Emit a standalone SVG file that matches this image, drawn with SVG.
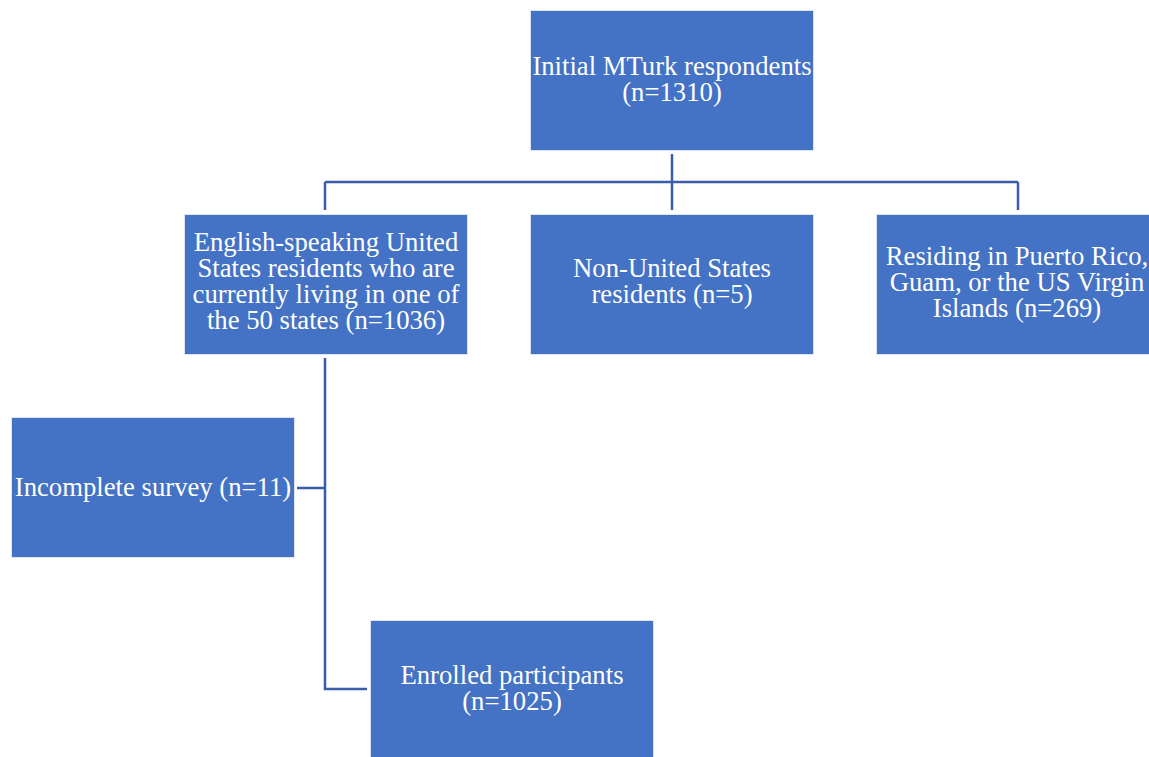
<svg xmlns="http://www.w3.org/2000/svg" width="1149" height="757" viewBox="0 0 1149 757">
<style>
.box{fill:#4472C4;stroke:#DCE4F2;stroke-width:1}
.t{font-family:"Liberation Serif","Times New Roman",serif;font-size:26.7px;fill:#FFFFFF;text-anchor:middle}
.c{fill:none;stroke:#3A5DA8;stroke-width:2.5}
</style>
<rect width="1149" height="757" fill="#FFFFFF"/>
<g id="connectors">
<path class="c" d="M672 154 V210"/>
<path class="c" d="M325 182 H1018"/>
<path class="c" d="M325 182 V210"/>
<path class="c" d="M1018 182 V210"/>
<path class="c" d="M325 358 V689 H367"/>
<path class="c" d="M297 488 H325"/>
</g>
<g id="n_initial">
<rect class="box" x="530.5" y="10.5" width="283" height="140"/>
<text class="t" x="672" y="75">Initial MTurk respondents</text>
<text class="t" x="672" y="101">(n=1310)</text>
</g>
<g id="n_english">
<rect class="box" x="184.5" y="214.5" width="283" height="140"/>
<text class="t" x="326" y="251">English-speaking United</text>
<text class="t" x="326" y="277">States residents who are</text>
<text class="t" x="326" y="303">currently living in one of</text>
<text class="t" x="326" y="329">the 50 states (n=1036)</text>
</g>
<g id="n_nonus">
<rect class="box" x="530.5" y="214.5" width="283" height="140"/>
<text class="t" x="672" y="277">Non-United States</text>
<text class="t" x="672" y="303">residents (n=5)</text>
</g>
<g id="n_territories">
<rect class="box" x="876.5" y="214.5" width="283" height="140"/>
<text class="t" x="1017" y="265">Residing in Puerto Rico,</text>
<text class="t" x="1017" y="291">Guam, or the US Virgin</text>
<text class="t" x="1017" y="317">Islands (n=269)</text>
</g>
<g id="n_incomplete">
<rect class="box" x="11.5" y="417.5" width="283" height="140"/>
<text class="t" x="153" y="496">Incomplete survey (n=11)</text>
</g>
<g id="n_enrolled">
<rect class="box" x="370.5" y="620.5" width="283" height="140"/>
<text class="t" x="512" y="684">Enrolled participants</text>
<text class="t" x="512" y="710">(n=1025)</text>
</g>
</svg>
